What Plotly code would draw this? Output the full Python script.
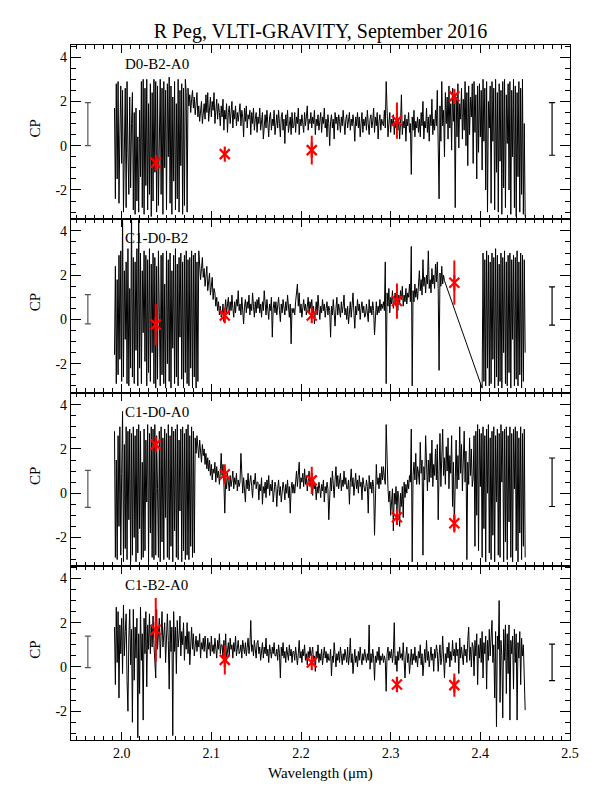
import numpy as np
import plotly.graph_objects as go
from plotly.subplots import make_subplots

panel_names = ["D0-B2-A0", "C1-D0-B2", "C1-D0-A0", "C1-B2-A0"]

wl_start = 1.992
wl_step = 0.001
wl_gap_start = 2.402  # C1-D0-B2 second segment start

cp_d0b2a0 = [
    1.7, -2.4, 2.8, -1.5, 2.9, -2.6, 0.5, 2.7, -0.8, 2.5, -3.0, 1.2, 2.6, -2.8, 2.9, -0.3, -2.2, 2.2, -1.9, 1.0,
    2.4, -2.9, 1.5, -3.1, 1.7, -2.5, 0.4, -3.0, 1.6, -1.4, 2.9, -2.8, 3.0, -3.1, 2.6, -1.8, 3.0, -2.9, 1.9, -2.2,
    2.8, -3.2, 2.4, -2.5, 3.0, -1.2, 2.9, -3.0, 2.7, -2.7, 0.8, 3.0, -2.2, 2.6, -3.1, 2.9, -1.0, 2.5, -2.9, 2.8,
    -0.5, 3.1, -2.6, 2.7, -3.1, 2.2, -1.6, 2.9, -2.9, 1.9, -2.4, 3.0, -3.0, 2.5, -0.9, 2.8, -3.1, 2.6, -2.7, 3.0,
    2.4, -3.0, 2.6, 1.8, 2.3, 1.5, 2.1, 2.5, 1.7, 2.2, 1.4, 1.9, 2.4, 1.3, 1.8, 1.1, 1.6, 2.0, 1.0, 1.5,
    1.9, 1.2, 2.3, 1.5, 2.4, 1.1, 1.8, 2.2, 1.3, 2.0, 1.6, 2.4, 1.0, 1.7, 2.1, 1.2, 1.9, 1.5, 0.9, 1.8,
    1.3, 2.1, 0.7, 1.6, 1.2, 1.9, 0.6, 1.5, 1.8, 1.0, 1.4, 2.0, 0.8, 1.6, 1.2, 1.8, 0.9, 1.5, 1.1, 1.7,
    1.9, 0.9, 1.6, 1.3, 0.4, 1.7, 1.1, 1.8, 0.8, 1.4, 1.2, 1.6, 0.5, 1.5, 1.0, 1.7, 0.7, 1.2, 1.5, 0.6,
    1.3, 1.0, 1.7, 0.7, 1.2, 1.5, 0.3, 1.1, 1.4, 0.8, 1.6, 1.0, 0.4, 1.3, 1.5, 0.7, 1.2, 0.9, 1.6, 0.5,
    1.1, 1.4, 0.8, 1.6, 1.0, 0.4, 1.3, 1.5, 0.7, 1.2, 0.1, 1.4, 0.9, 1.6, 0.6, 1.1, 1.3, 0.5, 1.5, 0.8,
    0.9, 1.5, 0.6, 1.3, 1.0, 1.7, 0.5, 1.2, 0.9, 1.4, 1.1, 0.6, 1.5, 0.9, 1.3, 1.8, 0.7, 1.2, 1.0, 1.5,
    0.8, 1.3, 1.0, 1.6, 0.5, 1.2, 0.9, 1.4, 0.7, 1.1, 1.5, 0.6, 1.3, 1.0, 1.7, 0.8, 1.2, 0.4, 1.4, 1.0,
    0.0, 1.1, 1.4, 0.8, 1.2, 0.3, 1.5, 1.0, 1.3, 0.7, 1.4, 1.1, 0.6, 1.3, 0.9, 1.6, 1.0, 0.5, 1.2, 1.4,
    0.8, 1.1, 1.5, 0.7, 1.2, 0.9, 1.4, 1.0, 0.2, 1.3, 0.9, 1.5, 0.8, 1.3, 0.4, 1.0, 1.5, 0.6, 1.2, 0.9,
    1.3, 0.7, 1.6, 1.0, 0.5, 1.2, 1.4, 0.8, 1.1, 1.7, 0.6, 1.3, 0.9, 1.5, 0.3, 1.1, 1.4, 0.7, 1.2, 1.0,
    0.9, 1.6, 0.8, 2.9, 1.3, 0.4, 1.0, 1.5, 0.6, 1.2, 0.9, 1.4, 0.5, 1.1, 0.8, 1.6, 0.7, 1.2, 0.3, 1.0,
    2.3, 0.5, 1.1, 0.8, 1.4, 0.2, 1.2, 0.9, 1.5, 0.6, 1.0, -1.3, 1.3, 0.7, 1.6, 0.4, 1.1, 0.8, 1.3, 0.6,
    1.2, 0.4, 1.5, 0.9, 2.0, 0.3, 1.1, 0.8, 1.7, 0.6, 1.3, 0.2, 1.4, 0.9, 2.1, 0.5, 1.2, 0.7, 1.6, 0.9,
    2.5, 0.6, -2.4, 1.8, 0.2, 2.9, 0.9, 1.6, -0.5, 2.4, 1.0, 2.2, 0.3, 2.7, 0.8, 1.9, -0.2, 2.6, 1.1, 2.3,
    -2.8, 2.2, 0.4, 2.8, -0.1, 1.9, 1.2, 2.6, 0.3, 2.1, 0.7, 2.9, 0.0, 2.4, -0.9, 2.7, 0.5, 2.2, 1.3, 2.8,
    -0.8, 2.9, 0.6, 2.3, -1.5, 2.7, -0.3, 2.8, 0.4, 2.5, -1.1, 3.0, 0.2, 2.6, -2.0, 2.9, -3.0, 2.0, 0.8, 2.7,
    -2.6, 2.9, 0.2, 2.6, -2.9, 3.0, -1.2, 2.4, -3.0, 2.8, -0.7, 2.5, -3.1, 2.9, -1.9, 3.0, -2.8, 2.3, 0.1, 2.8,
    -2.0, 2.9, -3.1, 2.5, -0.5, 3.0, -2.8, 2.7, -3.2, 2.4, -1.4, 2.9, -3.0, 2.6, -2.2, 3.0, -3.1, 1.0, -3.2,
]

cp_c1d0b2_a = [
    -1.6, 2.4, -2.9, 1.8, -2.5, 2.9, -1.8, 3.1, -2.8, 5.0, -2.6, 2.2, -0.9, 2.6, -2.9, 3.2, -3.0, 1.4, -2.2, 5.0,
    -2.6, 2.8, -2.9, 2.6, -1.4, 3.2, -3.0, 5.0, -2.2, 3.0, -2.9, 2.2, -0.6, 3.1, -1.9, 2.9, -3.0, 2.7, -2.4, 3.2,
    -2.8, 2.5, -1.5, 3.0, -2.9, 2.8, -3.1, 2.4, -2.7, 3.1, 0.3, -3.0, 2.9, -2.5, 3.0, -2.9, 1.6, -3.1, 3.1, -2.0,
    2.7, -2.8, 3.0, -3.1, 2.2, -1.3, 2.9, -2.9, 3.2, -2.6, 2.5, -3.0, 2.8, -0.8, 3.0, -2.7, 2.6, -3.1, 2.9, -2.4,
    3.1, -2.9, 2.7, -3.0, 2.8, -2.2, 3.1, -3.1, 2.9, -2.6, 3.0, -3.1, 2.6, -2.8, 3.1, 2.6, 1.8, 2.3, 2.8, 1.9,
    2.3, 1.5, 2.0, 2.4, 1.3, 1.7, 2.1, 1.1, 1.6, 1.9, 0.9, 1.4, 1.2, 0.6, 1.0, 0.4, 0.8, 0.2, 0.6, 0.1,
    0.2, 0.7, -0.1, 0.5, 0.9, 0.3, 0.6, 1.0, 0.2, 0.8, 0.4, 1.1, 0.5, 0.1, 0.8, 0.3, 0.9, 0.6, 1.3, 0.4,
    0.7, 0.2, 1.0, 0.5, -0.2, 0.6, 0.9, 0.3, 0.8, 0.5, 1.1, 0.2, 0.7, 0.4, 1.2, 0.6, 0.1, 0.8, 0.3, 0.9,
    0.5, 1.0, 0.3, 0.7, 0.1, 0.8, 0.4, 1.3, 0.6, 0.2, 0.9, 0.5, 0.0, 0.7, 0.4, 1.0, -0.8, 0.5, 0.8, 0.3,
    0.8, 0.2, 0.6, 1.0, 0.4, -0.1, 0.7, 0.3, 0.9, 0.5, 0.2, 0.8, 0.4, 1.1, 0.6, 0.1, 0.7, -1.1, 0.5, 0.3,
    0.5, 0.2, 0.8, 1.2, 1.6, 0.6, 1.2, 0.3, 0.7, 0.1, 0.5, 0.9, 0.4, 0.7, 0.2, 0.6, 1.0, 0.3, 0.8, 0.5,
    0.9, 0.3, 0.6, -0.2, 0.4, 0.8, 0.2, 1.1, 0.5, 0.0, 0.6, 0.3, 0.9, 0.4, 0.7, 0.1, 0.5, 0.8, 0.2, 0.6,
    0.4, -0.8, 0.6, 0.2, 0.9, 0.3, -0.3, 0.5, 1.0, 0.2, 0.7, 0.4, 0.1, 0.8, 0.3, 0.6, 1.1, 0.2, 0.5, 0.0,
    0.6, -0.2, 0.4, 0.8, 0.1, 0.5, 1.2, 0.3, -0.4, 0.6, 0.2, 0.9, 0.4, 0.7, 0.0, 0.5, 0.8, 0.3, 0.6, 0.1,
    0.2, 0.7, 0.4, -0.1, 0.9, 0.3, 0.6, 0.2, 0.8, 0.4, -0.7, 0.5, 0.8, 0.2, 0.6, 0.3, 0.9, 0.4, 0.7, 0.5,
    0.8, 0.4, 2.6, -2.9, 1.2, 0.6, 1.4, 0.3, 1.0, 0.7, 1.3, 0.5, 0.9, 1.2, 0.6, 1.0, 0.4, 1.1, 0.7, 1.3,
    0.9, 1.5, 0.6, 1.1, 0.8, 1.4, 0.7, 1.2, 1.0, 1.6, 0.8, 3.3, -3.0, 1.3, 0.8, 1.6, 1.0, 1.4, 0.9, 1.7,
    2.2, 1.3, 1.8, 1.1, 2.7, 1.5, 1.9, 1.2, 2.0, 1.6, 3.1, 1.4, 1.8, 1.2, 2.3, 1.6, 2.0, 1.4, 2.5, 1.7,
    2.6, 1.4, -2.3, 2.1, 1.5, 2.4, 1.6, 2.0, 1.75,
]

cp_c1d0b2_b = [
    -3.1, 3.0, -2.8, 2.7, -3.0, 3.1, -2.2, 2.9, -3.0, 2.6, -2.9, 3.0, -1.8, 2.8, -3.1, 3.2, -2.6, 2.9, -3.0, 2.5,
    -2.8, 3.0, -3.1, 2.8, -1.5, 3.1, -2.9, 2.6, -3.0, 2.9, -2.4, 3.0, -3.1, 2.7, -0.9, 2.9, -3.0, 2.8, -2.7, 3.1,
    -3.0, 2.6, -2.5, 3.0, -3.1, 2.9, -2.8, 2.7, -1.5,
]

cp_c1d0a0 = [
    2.8, -2.9, 1.5, -3.0, 2.6, -1.5, 3.0, -2.8, 0.9, 3.7, -3.1, 2.2, -2.5, 3.0, -3.0, 2.8, -1.2, 2.9, -3.1, 2.7,
    -2.8, 3.0, -2.0, 2.6, -3.1, 2.9, -2.7, 3.1, -1.6, 2.8, -3.0, 1.4, -2.9, 2.9, -2.6, 2.4, -0.4, 3.1, -3.1, 2.7,
    -1.8, 3.0, -2.9, 2.9, -3.0, 3.1, -2.8, 2.6, 0.2, -2.9, 2.8, -3.1, 3.0, -2.2, 2.5, -3.0, 2.9, -1.1, 2.7, -2.9,
    3.1, -3.0, 2.6, -2.4, 3.0, -3.1, 2.8, -1.7, 2.9, -2.9, 3.1, -3.0, 2.4, -0.8, 2.9, -3.1, 3.0, -2.6, 2.7, -3.0,
    2.9, -2.8, 3.1, -3.0, 2.6, -2.4, 3.0, -2.9, 2.8, -2.7, 2.5, 1.8, 2.6, 2.2, 1.6, 2.4, 1.9, 1.4, 2.2, 1.7,
    2.0, 1.3, 1.8, 1.1, 1.6, 1.0, 1.5, 0.8, 1.3, 0.6, 1.1, 0.9, 1.4, 0.5, 1.2, 0.7, 1.0, 0.4, 0.9, 1.8,
    0.8, 1.3, 0.5, -0.9, 0.7, 0.2, 0.9, 0.4, 0.1, 0.8, 0.3, 0.6, 1.0, 0.2, 0.7, 0.4, 0.9, 0.1, 0.6, 0.3,
    0.5, 1.8, 0.6, 0.0, 0.7, 0.3, -0.4, 0.6, 0.2, 0.9, 0.1, 0.5, 0.8, 0.3, -0.2, 0.6, 0.4, 0.9, 0.2, 0.5,
    0.5, -0.3, 0.4, 0.1, 0.7, -0.5, 0.3, 0.0, 0.5, -0.2, 0.6, 0.2, 0.8, -0.1, 0.4, 0.1, 0.6, -0.4, 0.3, 0.5,
    0.3, -0.6, 0.2, 0.6, -0.1, 0.3, -0.4, 0.1, 0.5, 0.2, -0.3, 0.4, 0.0, 0.6, -0.2, 0.3, -0.9, 0.2, 0.5, 0.0,
    0.4, 0.0, 0.6, 1.0, 0.3, 0.8, 1.4, 0.2, 0.7, 0.5, 0.9, 0.3, 1.1, 0.4, 0.8, 0.1, 0.6, 1.0, 0.3, 0.7,
    0.9, -0.1, 0.6, 0.2, 0.4, -0.3, 0.3, 0.0, 0.5, 0.2, -0.2, 0.4, 0.1, 0.6, -0.4, 0.3, 0.0, 0.5, 0.2, -1.2,
    0.3, 0.7, 0.1, 1.0, 0.4, -0.2, 0.6, 1.2, 0.3, 0.8, 0.2, 0.5, 0.9, 0.1, 0.6, 0.3, 1.0, 0.4, 0.7, 0.2,
    0.2, 0.6, -0.5, 0.5, 1.1, 0.3, 0.7, -0.1, 0.4, 0.9, 0.2, 0.6, 0.0, 0.8, 0.3, 0.5, -0.3, 0.7, 0.4, 0.1,
    0.1, 0.6, 0.3, -0.9, 0.8, 0.2, 0.5, 0.0, 0.6, 0.3, -1.9, 0.5, 1.3, 0.4, 0.7, 0.2, 0.9, 0.4, 1.2, 0.6,
    1.2, 0.7, 0.4, 3.1, 0.6, 0.2, -0.4, 0.1, -1.0, -0.3, 0.2, -1.7, 0.0, -0.5, 0.3, -0.8, 0.1, -0.2, -1.5, 0.0,
    -0.6, 0.3, -1.1, 0.5, -0.2, 0.4, 0.0, 0.6, 0.2, 0.8, 0.5, 2.9, -3.1, 0.8, 1.4, 0.6, 1.8, 0.4, 1.2, 0.9,
    0.4, 2.3, 0.9, 1.5, -2.8, 1.2, 0.6, 2.6, 0.9, 0.1, 1.5, 0.5, 1.8, 0.7, 2.4, 0.3, 1.3, 0.8, 2.0, 0.6,
    2.2, -1.2, 1.0, 2.7, 0.3, 1.3, 2.9, 0.8, 1.6, 0.4, 2.1, 1.0, 2.5, 0.2, 1.7, 0.9, 2.6, -0.6, 1.4, -1.5,
    1.1, 2.4, 0.2, 1.7, 0.6, 3.0, 0.9, 2.2, 0.1, 1.5, 2.8, 0.5, 1.9, -3.0, 1.4, 0.4, 2.5, 0.8, 2.0, 0.3,
    0.7, 2.6, -2.4, 2.8, -1.0, 3.1, -2.6, 2.9, 0.3, 2.7, -2.9, 3.0, -1.6, 2.6, -3.1, 2.9, 0.0, 3.1, -2.7, 2.5,
    -3.0, 2.8, -1.9, 3.0, -3.1, 2.6, -0.4, 2.9, -2.8, 2.7, -2.9, 3.1, 0.5, 2.8, -3.1, 2.9, -2.2, 3.0, -3.0, 2.6,
    -1.3, 3.0, -2.9, 2.7, -3.1, 2.9, 0.2, 3.0, -2.6, 2.8, -3.1, 2.5, -1.8, 3.0, -3.0, 2.7, -2.4, 2.9, -2.9,
]

cp_c1b2a0 = [
    1.8, -0.8, 2.7, 0.2, 2.5, -1.4, 1.9, 0.6, 2.2, -0.3, 2.8, 0.5, 1.6, 2.4, -0.6, -2.0, 1.3, 2.6, 0.1, 1.7,
    -2.5, 2.6, -0.6, 1.8, 0.4, 2.2, -3.2, 1.5, -1.2, 2.7, 0.3, 1.5, -2.4, 2.2, 0.6, 2.5, -0.9, 1.9, 0.8, 2.4,
    0.6, 1.9, 0.9, 2.3, 1.0, 0.1, -0.5, 2.6, 0.8, 1.5, 2.2, 0.4, 1.7, 2.5, 0.9, 1.3, 2.0, 0.2, 1.6, 2.4,
    1.2, -1.0, 2.1, 0.7, 1.8, -3.1, 2.5, 0.7, 1.8, -0.3, 2.1, 0.9, 1.4, 2.3, 0.5, 1.6, 1.0, 2.0, 0.3, 1.4,
    0.8, 2.0, 0.6, 1.6, 0.1, 1.2, 1.8, 0.8, 1.5, 0.5, 1.1, 1.4, 0.7, 1.2, 0.9, 1.5, 0.4, 1.1, 0.8, 1.3,
    0.7, 1.4, 0.9, 0.4, 1.3, 0.8, 1.1, 0.5, 1.4, 0.7, 1.0, 0.6, 1.3, 0.9, 0.4, 1.2, 0.8, 1.5, 0.6, 1.0,
    1.0, 0.4, 1.2, 0.6, 1.5, 0.3, 0.9, 1.1, 0.5, 1.3, 0.8, 1.0, 0.4, 1.1, 0.7, 1.4, 0.5, 0.9, 1.2, 0.6,
    0.7, 1.0, 0.4, 1.2, 0.8, 0.6, 1.1, 0.5, 0.9, 1.3, 0.6, 1.0, 2.1, 0.7, 1.0, 0.5, 1.2, 0.8, 0.4, 1.1,
    1.2, 0.6, 0.9, 0.3, 0.8, 1.1, 0.4, 0.9, 0.6, 1.3, 0.5, 0.8, 0.2, 1.0, 0.7, 0.4, 0.9, 0.6, 1.1, 0.5,
    0.5, 0.8, 0.3, 1.0, 0.6, -0.5, 0.9, 0.5, 1.1, 0.4, 0.7, 0.2, 0.9, 0.6, 0.3, 1.0, 0.5, 0.8, 0.2, 0.7,
    0.7, 0.3, 0.9, 0.5, 0.1, 0.6, 1.2, 0.4, 0.7, 0.2, 0.8, 0.5, 1.0, 0.3, 0.6, 0.1, 0.7, 0.4, 0.9, 0.5,
    0.6, 0.9, 0.3, 0.5, -0.2, 0.7, 0.4, 1.0, 0.2, 0.6, 0.3, 0.8, 0.1, 0.5, 0.9, 0.4, 0.7, 0.2, 0.6, 0.3,
    0.3, 0.8, -0.4, 0.5, 0.2, 1.1, 0.4, 0.0, 0.6, 0.3, 0.7, 0.2, 0.9, 0.4, 0.1, 0.6, 0.3, 0.8, 0.5, 0.2,
    0.9, 0.1, 0.5, 1.3, 0.2, 0.6, -0.3, 0.4, 0.8, 0.2, 0.5, 0.0, 0.7, 0.3, 0.9, 0.4, 0.1, 0.6, 0.3, 0.8,
    0.5, 0.2, 0.6, 0.3, 1.9, -0.1, 0.6, 0.2, 0.8, 0.4, -0.6, 0.5, 0.2, 0.7, 0.3, 0.9, 0.1, 0.5, 0.3, 0.6,
    0.2, 0.5, 0.3, -1.1, 0.6, 0.9, 0.3, 0.7, 0.4, 0.8, 0.2, 0.6, 2.0, 0.1, 0.5, -0.2, 0.7, 0.3, 0.9, 0.4,
    0.6, 0.3, 1.1, 0.4, -0.5, 0.5, 0.9, 0.2, 0.6, -0.3, 0.4, 0.8, 0.1, 0.6, 0.3, 0.9, 0.2, 0.5, 0.0, 0.7,
    0.4, 1.0, 0.1, 0.6, -0.4, 0.5, 0.8, 0.2, 1.2, 0.3, 0.7, 0.0, 0.5, 0.9, 0.3, 0.6, -0.2, 0.8, 0.4, 1.0,
    0.7, -0.2, 0.5, 1.0, 0.1, 0.4, 1.4, 0.3, -0.5, 0.6, 0.2, 0.9, 0.4, 1.1, 0.0, 0.7, 0.3, 1.2, 0.5, 0.8,
    0.2, 1.1, 0.5, 0.8, -0.3, 1.3, 0.4, 0.9, 0.6, 0.1, 1.0, 0.5, 0.8, 0.2, 1.2, 1.8, 0.3, 0.9, 0.0, 1.1,
    0.9, -0.4, 1.2, 0.5, 1.5, -0.8, 1.0, 0.4, 1.3, 0.2, 1.6, -0.5, 1.1, 0.6, 1.4, -1.0, 1.2, 0.3, 1.7, 0.5,
    1.3, 2.1, 0.2, 1.0, -1.4, 1.6, -2.7, 1.4, 0.8, 3.0, -1.6, 1.2, 0.5, -2.3, 1.7, 0.3, 1.9, -1.2, 1.5, -0.3,
    1.9, -2.4, 1.2, 0.6, 1.4, -1.0, 1.7, 0.2, 1.5, -2.4, 1.1, 0.4, 1.6, -0.8, 1.3, 0.5, 1.0, -1.2, -1.95,
]

# red closure-phase points
pt_wl = [2.038, 2.115, 2.212, 2.307, 2.371]
pt_cp = [
    [-0.77, -0.38, -0.20, 1.13, 2.23],
    [-0.23, 0.18, 0.18, 0.83, 1.66],
    [2.20, 0.86, 0.58, -1.09, -1.36],
    [1.68, 0.32, 0.20, -0.79, -0.82],
]
pt_err = [
    [0.12, 0.10, 0.65, 0.82, 0.08],
    [0.93, 0.10, 0.12, 0.80, 1.00],
    [0.10, 0.45, 0.62, 0.18, 0.42],
    [1.44, 0.66, 0.12, 0.10, 0.53],
]

# typical-error scale bars at left and right
bar_wl = [1.9623, 2.480]
bar_left_lo = [0.0, -0.20, -0.64, -0.03]
bar_left_hi = [1.95, 1.12, 1.03, 1.39]
bar_right_lo = [-0.43, -0.26, -0.60, -0.62]
bar_right_hi = [1.95, 1.47, 1.59, 1.03]

spectra = [
    [(wl_start, cp_d0b2a0)],
    [(wl_start, cp_c1d0b2_a), (wl_gap_start, cp_c1d0b2_b)],
    [(wl_start, cp_c1d0a0)],
    [(wl_start, cp_c1b2a0)],
]

FONT = "Liberation Serif"
OFF = 8  # page body margin offset

fig = make_subplots(rows=4, cols=1, shared_xaxes=True, vertical_spacing=0)

for r in range(4):
    row = r + 1
    xs, ys = [], []
    for start, vals in spectra[r]:
        xs.extend(list(start + wl_step * np.arange(len(vals))))
        ys.extend(vals)
    fig.add_trace(go.Scatter(x=xs, y=ys, mode="lines",
                             line=dict(color="black", width=1),
                             showlegend=False, hoverinfo="skip"), row=row, col=1)
    for bx, lo, hi, col in [(bar_wl[0], bar_left_lo[r], bar_left_hi[r], "#555555"),
                            (bar_wl[1], bar_right_lo[r], bar_right_hi[r], "black")]:
        mid = (lo + hi) / 2
        half = (hi - lo) / 2
        fig.add_trace(go.Scatter(x=[bx], y=[mid], mode="markers",
                                 marker=dict(size=1, color="rgba(0,0,0,0)"),
                                 error_y=dict(type="data", array=[half], visible=True,
                                              color=col, thickness=1.2, width=3),
                                 showlegend=False, hoverinfo="skip"), row=row, col=1)
    fig.add_trace(go.Scatter(x=pt_wl, y=pt_cp[r], mode="markers",
                             marker=dict(symbol="x-thin-open", size=10,
                                         line=dict(color="red", width=2.2), color="red"),
                             error_y=dict(type="data", array=pt_err[r], visible=True,
                                          color="red", thickness=2, width=0),
                             showlegend=False, hoverinfo="skip"), row=row, col=1)
    fig.add_trace(go.Scatter(x=pt_wl, y=pt_cp[r], mode="markers",
                             marker=dict(symbol="line-ns-open", size=11,
                                         line=dict(color="red", width=2.2), color="red"),
                             showlegend=False, hoverinfo="skip"), row=row, col=1)

    fig.update_xaxes(row=row, col=1, range=[1.9435, 2.5], tick0=2.0, dtick=0.1,
                     tickformat=".1f",
                     ticks="inside", ticklen=8, tickwidth=1, tickcolor="black",
                     minor=dict(ticks="inside", ticklen=4, dtick=0.01, tickcolor="black"),
                     showline=True, linecolor="black", linewidth=1.3, mirror="ticks",
                     showgrid=False, zeroline=False,
                     showticklabels=(row == 4),
                     tickfont=dict(family=FONT, size=14, color="black"))
    fig.update_yaxes(row=row, col=1, range=[-3.3, 4.55],
                     tickvals=[-2, 0, 2, 4], ticktext=["-2", "0", "2", "4"],
                     ticks="inside", ticklen=10, tickwidth=1, tickcolor="black",
                     minor=dict(ticks="inside", ticklen=5, dtick=0.5, tickcolor="black"),
                     showline=True, linecolor="black", linewidth=1.3, mirror="ticks",
                     showgrid=False, zeroline=False,
                     tickfont=dict(family=FONT, size=14, color="black"))

    yname = "y" if row == 1 else f"y{row}"
    xname = "x" if row == 1 else f"x{row}"
    fig.add_annotation(text=panel_names[r], xref=f"{xname} domain", yref=f"{yname} domain",
                       x=0.105, y=0.89, xanchor="left", yanchor="middle", showarrow=False,
                       font=dict(family=FONT, size=15, color="black"))
    fig.add_annotation(text="CP", xref="paper", yref=f"{yname} domain",
                       x=-0.072, y=0.52, xanchor="center", yanchor="middle", showarrow=False,
                       textangle=-90, font=dict(family=FONT, size=15, color="black"))

fig.add_annotation(text="Wavelength (μm)", xref="paper", yref="paper",
                   x=0.5, y=-0.048, xanchor="center", yanchor="middle", showarrow=False,
                   font=dict(family=FONT, size=15, color="black"))

W, H = 591 - OFF, 786 - OFF
fig.update_layout(
    width=W, height=H,
    margin=dict(l=71 - OFF, r=18, t=45 - OFF, b=46),
    paper_bgcolor="white", plot_bgcolor="white",
    title=dict(text="R Peg, VLTI-GRAVITY, September 2016", x=0.5, xref="paper",
               xanchor="center", y=1 - (31 - OFF) / H, yanchor="middle",
               font=dict(family=FONT, size=20, color="black")),
    showlegend=False,
)

fig.write_html("out.html")
